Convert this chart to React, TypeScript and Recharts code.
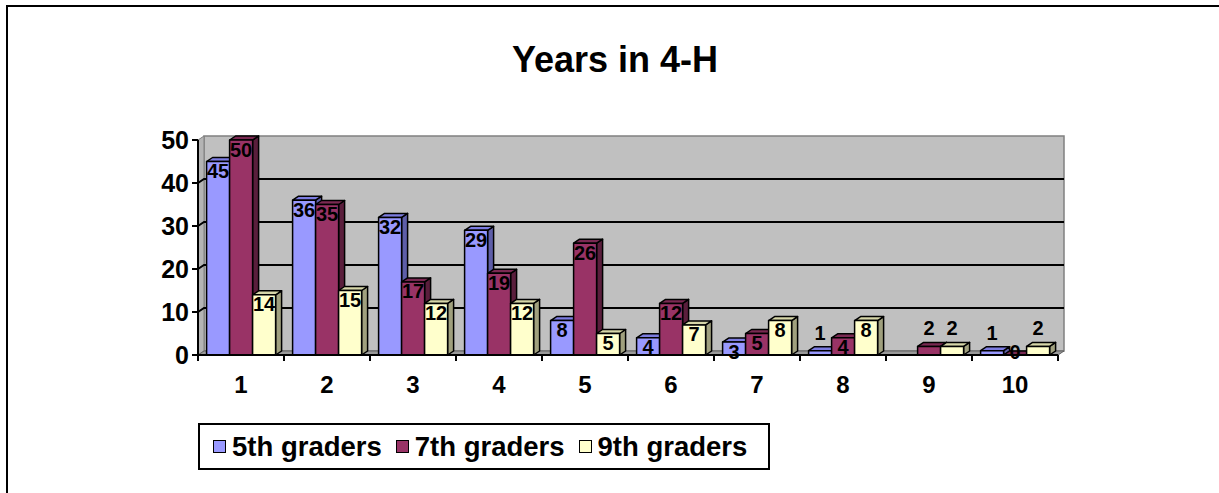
import { BarChart, Bar, XAxis, YAxis, ReferenceArea, LabelList } from "recharts"

let years = ["1", "2", "3", "4", "5", "6", "7", "8", "9", "10"]
let fifth = [45, 36, 32, 29, 8, 4, 3, 1, null, 1]
let seventh = [50, 35, 17, 19, 26, 12, 5, 4, 2, 0]
let ninth = [14, 15, 12, 12, 5, 7, 8, 8, 2, 2]
let yTicks = [0, 10, 20, 30, 40, 50]

let series = [
  { key: "fifth", name: "5th graders", front: "#9999FF", top: "#7C7CE0", side: "#5E5EA8" },
  { key: "seventh", name: "7th graders", front: "#993366", top: "#7A2952", side: "#5A1E3C" },
  { key: "ninth", name: "9th graders", front: "#FFFFCC", top: "#D6D6A8", side: "#A0A07E" },
]

let data = years.map((year, i) => ({ year, fifth: fifth[i], seventh: seventh[i], ninth: ninth[i] }))

let DX = 6
let DY = -4
let FONT = "'Liberation Sans', Arial, sans-serif"
let W = 1219
let H = 493

let pts = (arr: number[][]) => arr.map((p) => p.join(",")).join(" ")

let Wall = (props: any) => {
  let { x, y, width, height } = props
  let max = yTicks[yTicks.length - 1]
  let bottom = y + height
  return (
    <g>
      <polygon
        points={pts([[x + DX, y + DY], [x + width + DX, y + DY], [x + width + DX, bottom + DY], [x + DX, bottom + DY]])}
        fill="#C0C0C0"
        stroke="#808080"
        strokeWidth={1.5}
      />
      <polygon
        points={pts([[x, y], [x + DX, y + DY], [x + DX, bottom + DY], [x, bottom]])}
        fill="#B4B4B4"
        stroke="#808080"
        strokeWidth={1}
      />
      <polygon
        points={pts([[x, bottom], [x + DX, bottom + DY], [x + width + DX, bottom + DY], [x + width, bottom]])}
        fill="#9A9A9A"
        stroke="#606060"
        strokeWidth={1}
      />
      {yTicks.slice(1, -1).map((v) => {
        let yy = bottom - (v / max) * height
        return (
          <polyline
            key={v}
            points={pts([[x, yy], [x + DX, yy + DY], [x + width + DX, yy + DY]])}
            fill="none"
            stroke="#000"
            strokeWidth={2}
          />
        )
      })}
    </g>
  )
}

let makeShape = (s: any) => (props: any) => {
  let { x, y, width, height, value } = props
  if (value == null || x == null) return null
  let h = Math.max(0, height || 0)
  return (
    <g stroke="#000" strokeWidth={1.5} strokeLinejoin="round">
      <polygon points={pts([[x + width, y], [x + width + DX, y + DY], [x + width + DX, y + h + DY], [x + width, y + h]])} fill={s.side} />
      <polygon points={pts([[x, y], [x + DX, y + DY], [x + width + DX, y + DY], [x + width, y]])} fill={s.top} />
      <rect x={x} y={y} width={width} height={h} fill={s.front} />
    </g>
  )
}

let ValueLabel = (props: any) => {
  let { x, y, width, value } = props
  if (value == null || x == null) return null
  let cy = y + 9.5
  if (value === 0) cy = y - 3
  else if (value <= 2) cy = y - 18
  return (
    <text
      x={x + width / 2}
      y={cy}
      textAnchor="middle"
      dominantBaseline="central"
      fontFamily={FONT}
      fontWeight="bold"
      fontSize={20}
      fill="#000"
    >
      {value}
    </text>
  )
}

let XTick = (props: any) => {
  let { x, y, payload } = props
  let step = 860 / years.length
  let isLast = payload.index === years.length - 1
  return (
    <g>
      <line x1={x - step / 2} y1={y - 8} x2={x - step / 2} y2={y - 2} stroke="#000" strokeWidth={2} />
      {isLast && <line x1={x + step / 2} y1={y - 8} x2={x + step / 2} y2={y - 2} stroke="#000" strokeWidth={2} />}
      <text x={x} y={y + 21} textAnchor="middle" dominantBaseline="central" fontFamily={FONT} fontWeight="bold" fontSize={24} fill="#000">
        {payload.value}
      </text>
    </g>
  )
}

export default function App() {
  return (
    <div style={{ position: "absolute", left: 0, top: 0, width: W, height: H, background: "#fff", overflow: "hidden", fontFamily: FONT }}>
      <div
        style={{
          position: "absolute",
          left: 6,
          top: 5,
          width: W + 20,
          height: H + 20,
          borderLeft: "2px solid #000",
          borderTop: "2px solid #000",
        }}
      />
      <div
        style={{
          position: "absolute",
          left: 0,
          width: 1230,
          top: 42,
          textAlign: "center",
          fontSize: 36,
          lineHeight: "36px",
          fontWeight: "bold",
          color: "#000",
        }}
      >
        Years in 4-H
      </div>
      <div style={{ position: "absolute", left: 0, top: 0 }}>
        <BarChart
          width={W}
          height={H}
          data={data}
          margin={{ top: 140, right: 161, bottom: 98, left: 0 }}
          barCategoryGap="10%"
          barGap={0}
        >
          <XAxis
            dataKey="year"
            height={40}
            axisLine={{ stroke: "#000", strokeWidth: 2 }}
            tickLine={false}
            tick={<XTick />}
            interval={0}
          />
          <YAxis
            domain={[0, 50]}
            ticks={yTicks}
            width={198}
            axisLine={{ stroke: "#000", strokeWidth: 2 }}
            tickLine={{ stroke: "#000", strokeWidth: 2 }}
            tickSize={6}
            tickMargin={3}
            tick={{ fill: "#000", fontSize: 25, fontWeight: "bold", fontFamily: FONT }}
          />
          <ReferenceArea y1={0} y2={50} shape={<Wall />} />
          {series.map((s) => (
            <Bar key={s.key} dataKey={s.key} name={s.name} fill={s.front} shape={makeShape(s)} isAnimationActive={false}>
              <LabelList dataKey={s.key} content={<ValueLabel />} />
            </Bar>
          ))}
        </BarChart>
      </div>
      <div
        style={{
          position: "absolute",
          left: 198,
          top: 423,
          width: 572,
          height: 47,
          border: "2px solid #000",
          display: "flex",
          alignItems: "center",
          paddingLeft: 13,
          boxSizing: "border-box",
        }}
      >
        {series.map((s) => (
          <div key={s.key} style={{ display: "flex", alignItems: "center", marginRight: 14 }}>
            <span style={{ width: 11, height: 11, background: s.front, border: "1.5px solid #000", marginRight: 6 }} />
            <span style={{ fontSize: 27.5, fontWeight: "bold", color: "#000" }}>{s.name}</span>
          </div>
        ))}
      </div>
    </div>
  )
}
